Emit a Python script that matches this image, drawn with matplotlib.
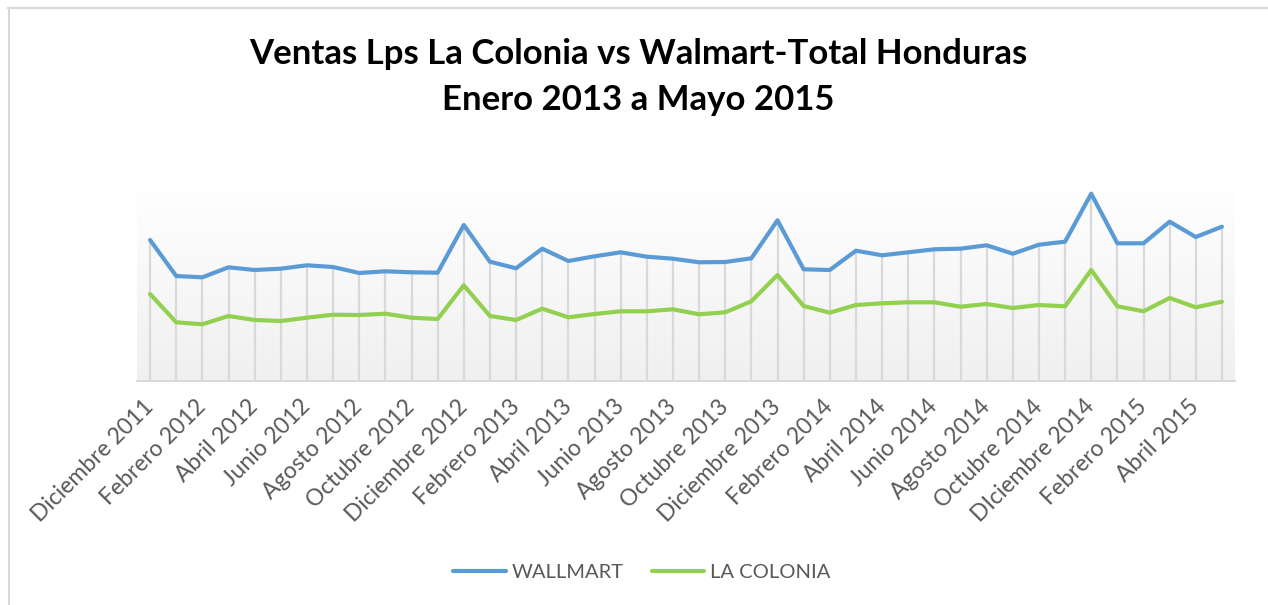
import matplotlib
matplotlib.use("Agg")
import matplotlib.pyplot as plt
import numpy as np

# ---- data (relative units) ----
meses = [
    "Diciembre 2011", "Enero 2012", "Febrero 2012", "Marzo 2012", "Abril 2012", "Mayo 2012",
    "Junio 2012", "Julio 2012", "Agosto 2012", "Septiembre 2012", "Octubre 2012", "Noviembre 2012",
    "Diciembre 2012", "Enero 2013", "Febrero 2013", "Marzo 2013", "Abril 2013", "Mayo 2013",
    "Junio 2013", "Julio 2013", "Agosto 2013", "Septiembre 2013", "Octubre 2013", "Noviembre 2013",
    "Diciembre 2013", "Enero 2014", "Febrero 2014", "Marzo 2014", "Abril 2014", "Mayo 2014",
    "Junio 2014", "Julio 2014", "Agosto 2014", "Septiembre 2014", "Octubre 2014", "Noviembre 2014",
    "DIciembre 2014", "Enero 2015", "Febrero 2015", "Marzo 2015", "Abril 2015", "Mayo 2015",
]
wallmart = [141, 105, 103.7, 113.7, 111, 112.3, 115.7, 114, 108, 109.7, 108.7, 108.3,
            156, 119.3, 112.7, 132.3, 120, 124.7, 128.7, 124.3, 122.3, 118.7, 119, 122.7,
            160.7, 111.7, 111, 130.3, 125.7, 128.7, 131.7, 132.3, 135.7, 127.3, 136.3, 139.3,
            187.3, 137.7, 137.7, 159.3, 144, 154.3]
la_colonia = [87, 58.7, 56.7, 65, 61, 60, 63.3, 66.3, 66, 67.3, 63.3, 62,
              95.7, 65, 61, 72.3, 63.7, 67, 69.7, 69.7, 71.7, 66.7, 68.7, 79.7,
              106, 75, 68.3, 76, 77.7, 78.7, 78.7, 74.3, 77, 73, 76, 74.7,
              111, 74.7, 69.7, 83, 73.7, 79.3]
titulo_1 = "Ventas Lps La Colonia vs Walmart-Total Honduras"
titulo_2 = "Enero 2013 a Mayo 2015"

plt.rcParams['font.family'] = ['Lato', 'DejaVu Sans']

W, H = 1268, 605
fig = plt.figure(figsize=(W / 100, H / 100), dpi=100)
fig.patch.set_facecolor('white')

# chart border (top / left visible)
fig.add_artist(plt.Line2D([8 / W, 1], [1 - 8 / H, 1 - 8 / H], color='#d9d9d9', lw=1.5))
fig.add_artist(plt.Line2D([8.5 / W, 8.5 / W], [0, 1 - 8 / H], color='#d9d9d9', lw=1.5))

left, right, top, bottom = 137, 1235, 183, 381
ax = fig.add_axes([left / W, 1 - bottom / H, (right - left) / W, (bottom - top) / H])

x = np.arange(len(meses))
ymax = 198
ax.set_xlim(-0.5, len(meses) - 0.5)
ax.set_ylim(0, ymax)

# gradient background (white at top -> light grey at bottom)
grad = np.linspace(0, 1, 256).reshape(-1, 1)
c_top = np.array([1.0, 1.0, 1.0])
c_bot = np.array([0xf0, 0xf0, 0xf0]) / 255
img = c_top + (c_bot - c_top) * grad
ax.imshow(img.reshape(256, 1, 3), extent=[-0.5, len(meses) - 0.5, 0, ymax],
          origin='upper', aspect='auto', zorder=0)

# drop lines
tope = np.maximum(wallmart, la_colonia)
ax.vlines(x, 0, tope, color='#d9d9d9', lw=1.6, zorder=1)

ax.plot(x, wallmart, color='#5b9bd5', lw=3.0, solid_capstyle='round',
        solid_joinstyle='round', label='WALLMART', zorder=3)
ax.plot(x, la_colonia, color='#92d050', lw=3.0, solid_capstyle='round',
        solid_joinstyle='round', label='LA COLONIA', zorder=3)

for s in ['top', 'right', 'left']:
    ax.spines[s].set_visible(False)
ax.spines['bottom'].set_color('#d9d9d9')
ax.spines['bottom'].set_linewidth(1.5)
ax.set_yticks([])
ax.set_xticks(x[::2])
ax.set_xticklabels(meses[::2], rotation=45, ha='right', va='center',
                   rotation_mode='anchor', fontsize=16.5, color='#595959')
ax.tick_params(axis='x', length=0, pad=16)

fig.text(638 / W, 1 - 64 / H, titulo_1, ha='center', va='baseline',
         fontsize=25, fontweight='bold', color='black')
fig.text(638 / W, 1 - 110 / H, titulo_2, ha='center', va='baseline',
         fontsize=25, fontweight='bold', color='black')

leg = fig.legend(loc='center', bbox_to_anchor=(642 / W, 1 - 572 / H), ncol=2,
                 frameon=False, fontsize=14.5, handlelength=2.6, handletextpad=0.3,
                 columnspacing=1.4)
for t in leg.get_texts():
    t.set_color('#595959')

fig.savefig('out.png', dpi=100, facecolor='white')
